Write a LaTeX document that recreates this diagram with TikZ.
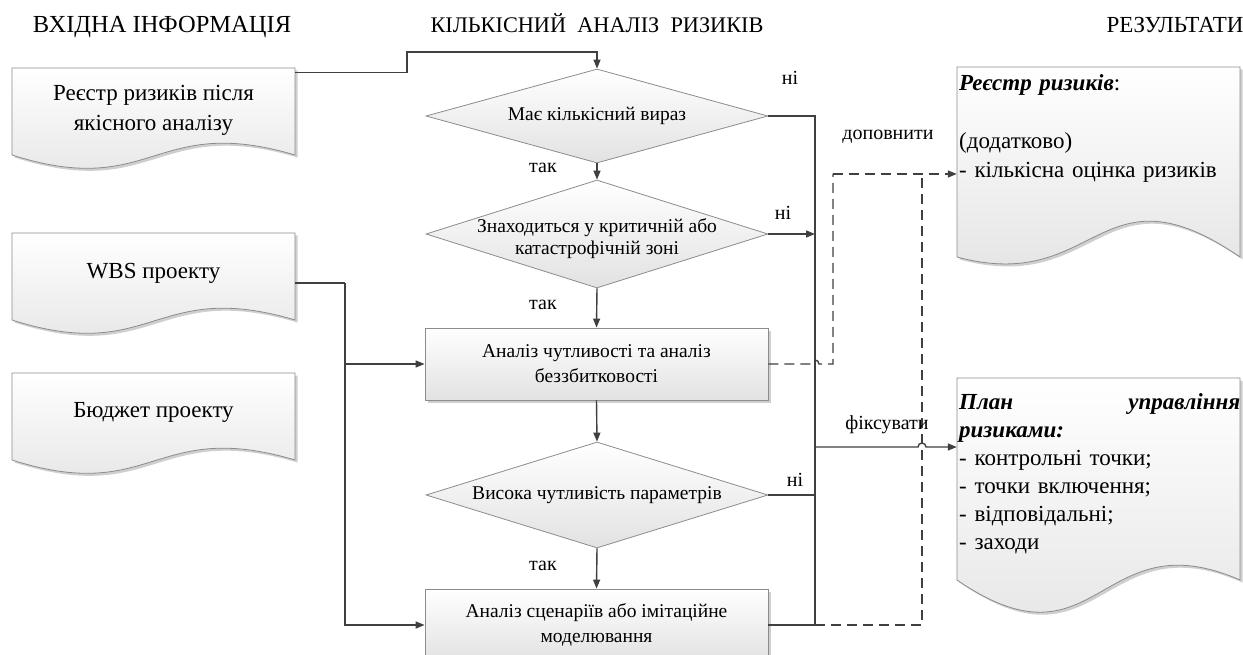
\documentclass[tikz,border=0pt]{standalone}
\usepackage{fontspec}
\setmainfont{Liberation Serif}
\usetikzlibrary{shapes.geometric,arrows.meta,calc,shadows}
\definecolor{linec}{HTML}{404040}
\definecolor{bordc}{HTML}{8C8C8C}
\definecolor{fillb}{HTML}{E2E2E2}
\definecolor{shadc}{HTML}{CFCFCF}
\tikzset{
 conn/.style={draw=linec, line width=1.4pt},
 arr/.style={conn, -{Triangle[length=9pt,width=7pt]}},
 dconn/.style={conn, dash pattern=on 10pt off 6pt},
 darr/.style={dconn, -{Triangle[length=9pt,width=7pt]}},
 frame/.style={draw=none, inner sep=0, minimum width=283pt},
 docfill/.style={draw=bordc, line width=0.8pt, top color=white, bottom color=fillb},
 procbox/.style={rectangle, draw=bordc, line width=0.8pt, top color=white, bottom color=fillb,
   minimum width=343pt, minimum height=72pt, inner sep=0, align=center,
   font=\fontsize{19.5}{25}\selectfont,
   drop shadow={shadow xshift=2.5pt, shadow yshift=-2.5pt, fill=shadc, opacity=1}},
 decision/.style={diamond, draw=bordc, line width=0.8pt, top color=white, bottom color=fillb, inner sep=0},
 dectext/.style={align=center, font=\fontsize{19.5}{22}\selectfont, inner sep=0},
 lbl/.style={font=\fontsize{20}{24}\selectfont, inner sep=0},
 hdr/.style={inner sep=0, anchor=base},
 doctext/.style={font=\fontsize{23}{30}\selectfont, align=center, inner sep=0},
 restext/.style={inner sep=0, anchor=north west, text width=281pt, align=left}
}
\newcommand\docshape[6]{%
 \begin{scope}[shift={(2.5,2.5)}]
 \fill[shadc] (#1,#2) -- (#3,#2) -- (#3,#4) .. controls ({(#1+#3)/2},{#4-#6}) and ({(#1+#3)/2},{#4+#5}) .. (#1,#4) -- cycle;
 \end{scope}
 \path[docfill] (#1,#2) -- (#3,#2) -- (#3,#4) .. controls ({(#1+#3)/2},{#4-#6}) and ({(#1+#3)/2},{#4+#5}) .. (#1,#4) -- cycle;
}
\begin{document}
\begin{tikzpicture}[x=1pt,y=-1pt]
\useasboundingbox (0,0) rectangle (1243,655);
\fill[white] (0,0) rectangle (1243,655);

% headers
\node[hdr, font=\fontsize{24.5}{28}\selectfont] (h1) at (162,33) {ВХІДНА ІНФОРМАЦІЯ};
\node[hdr, font=\fontsize{22.3}{26}\selectfont] (h2) at (597,33) {КІЛЬКІСНИЙ\ \ АНАЛІЗ\ \ РИЗИКІВ};
\node[hdr, font=\fontsize{23}{26}\selectfont] (h3) at (1175,33) {РЕЗУЛЬТАТИ};

% input documents
\docshape{12}{68}{295}{155}{45}{42}
\node[frame, minimum height=87pt] (in1) at (153.5,111.5) {};
\node[doctext] (in1t) at (153.5,110) {Реєстр ризиків після\\якісного аналізу};

\docshape{12}{233}{295}{320}{45}{42}
\node[frame, minimum height=87pt] (in2) at (153.5,276.5) {};
\node[doctext] (in2t) at (153.5,273) {WBS проекту};

\docshape{12}{373}{295}{460}{45}{42}
\node[frame, minimum height=87pt] (in3) at (153.5,416.5) {};
\node[doctext] (in3t) at (153.5,412) {Бюджет проекту};

% result documents
\docshape{957}{67}{1240}{257}{38}{97}
\node[frame, minimum height=190pt] (out1) at (1098.5,162) {};
\node[restext, font=\fontsize{23}{29}\selectfont] (out1t) at (959,74)
 {{\bfseries\itshape Реєстр ризиків}:\\[29pt](додатково)\\- кількісна оцінка ризиків};

\docshape{957}{378}{1240}{580}{97}{62}
\node[frame, minimum height=202pt] (out2) at (1098.5,479) {};
\node[restext, font=\fontsize{23}{28}\selectfont] (out2t) at (959,393)
 {{\bfseries\itshape План\hfill управління}\\{\bfseries\itshape ризиками:}\\- контрольні точки;\\- точки включення;\\- відповідальні;\\- заходи};

% central flow
\node[decision, minimum width=342pt, minimum height=94pt] (d1) at (597,116) {};
\node[dectext] (d1t) at (d1) {Має кількісний вираз};
\node[decision, minimum width=342pt, minimum height=108pt] (d2) at (597,234) {};
\node[dectext] (d2t) at (597,239) {Знаходиться у критичній або\\катастрофічній зоні};
\node[procbox] (b3) at (596.5,364) {Аналіз чутливості та аналіз\\беззбитковості};
\node[decision, minimum width=342pt, minimum height=106pt] (d3) at (597,495) {};
\node[dectext] (d3t) at (d3) {Висока чутливість параметрів};
\node[procbox] (b4) at (596.5,625) {Аналіз сценаріїв або імітаційне\\моделювання};

% coordinates
\coordinate (k1) at (407,52);
\coordinate (bt) at (345,283);
\coordinate (rv) at (815,447);
\coordinate (dv1) at (833,174);
\coordinate (dv2) at (922,174);

% input connectors
\draw[arr] ($(in1.north east)+(0,5)$) -| (k1) -| (d1.north);
\draw[conn] ($(in2.east)+(0,6.5)$) -- (bt);
\draw[arr] (bt) |- (b4.west);
\draw[arr] (b3.west -| bt) -- (b3.west);
\draw[conn] ($(in3.east)+(0,5.5)$) -- ($(in3.east)+(0,5.5)$ -| bt);

% vertical flow
\draw[arr] (d1.south) -- (d2.north);
\draw[arr] (d2.south) -- (b3.north);
\draw[arr] (b3.south) -- (d3.north);
\draw[arr] (d3.south) -- (b4.north);

% "no" branches
\draw[conn] (d1.east) -| (rv);
\draw[arr] (d2.east) -- (d2.east -| rv);
\draw[conn] (d3.east) -| (rv);
\draw[conn] (b4.east) -| (rv);
\draw[arr] (rv) -- (918,447) arc[start angle=180, end angle=360, radius=4] -- (out2.west |- rv);

% dashed connections
\draw[dconn] (b3.east) -- (811,364) arc[start angle=180, end angle=360, radius=4] -- (b3.east -| dv1) -- (dv1);
\draw[darr] (dv1) -- (dv1 -| out1.west);
\draw[dconn] (b4.east -| rv) -- (b4.east -| dv2) -- (dv2);

% labels
\node[lbl] (l1) at (790,78) {ні};
\node[lbl] (l2) at (543,168) {так};
\node[lbl] (l3) at (783,213) {ні};
\node[lbl] (l4) at (543,305) {так};
\node[lbl] (l5) at (795,480) {ні};
\node[lbl] (l6) at (543,566) {так};
\node[lbl] (l7) at (888,137) {доповнити};
\node[lbl] (l8) at (887,425) {фіксувати};
\end{tikzpicture}
\end{document}
